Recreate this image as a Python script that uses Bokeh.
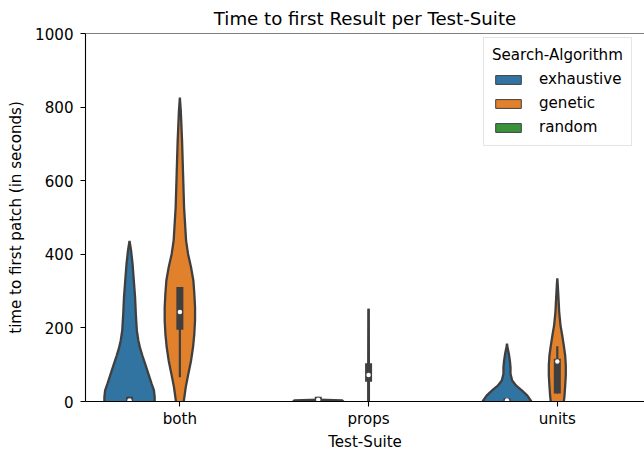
from bokeh.plotting import figure
from bokeh.models import Range1d, FixedTicker, Legend, LegendItem, Span
from bokeh.embed import file_html
from bokeh.resources import INLINE

# ---- data ----
suites = ["both", "props", "units"]
algorithms = ["exhaustive", "genetic", "random"]
colors = ["#3274a1", "#e1812c", "#3a923a"]

# density profiles (value grid, relative half-width 0..1)
both_exhaustive_vals = [0, 12, 30, 48, 75, 102, 125, 145, 166, 193, 238, 284, 329, 374, 411, 436]
both_exhaustive_dens = [1.0, 1.0, 0.97, 0.88, 0.75, 0.62, 0.51, 0.42, 0.35, 0.29, 0.25, 0.22, 0.17, 0.12, 0.06, 0.0]
both_genetic_vals = [0, 39, 75, 111, 148, 184, 220, 256, 293, 329, 365, 401, 438, 528, 619, 710, 791, 826]
both_genetic_dens = [0.155, 0.234, 0.337, 0.444, 0.524, 0.575, 0.603, 0.603, 0.575, 0.536, 0.444, 0.325, 0.246, 0.167, 0.127, 0.087, 0.036, 0.0]
props_exhaustive_vals = [0, 3, 5]
props_exhaustive_dens = [1.0, 0.95, 0.0]
props_genetic_vals = [0, 60, 120, 180, 252]
props_genetic_dens = [0.012, 0.012, 0.01, 0.006, 0.0]
units_exhaustive_vals = [0, 16, 30, 43, 57, 75, 93, 111, 129, 148, 157]
units_exhaustive_dens = [0.97, 0.81, 0.59, 0.365, 0.206, 0.14, 0.14, 0.115, 0.075, 0.02, 0.0]
units_genetic_vals = [0, 16, 43, 71, 98, 125, 152, 180, 207, 243, 279, 315, 335]
units_genetic_dens = [0.26, 0.286, 0.313, 0.337, 0.337, 0.313, 0.258, 0.194, 0.127, 0.075, 0.048, 0.02, 0.0]

# box statistics: (q1, median, q3, whisker_low, whisker_high)
both_exhaustive_box = (0, 3, 13, 0, 13)
both_genetic_box = (195, 243, 311, 66, 311)
props_exhaustive_box = (0, 5, 13, 0, 13)
props_genetic_box = (54, 72, 104, 0, 252)
units_exhaustive_box = (0, 3, 9, 0, 9)
units_genetic_box = (22, 109, 116, 22, 150)

violins = {
    ("both", "exhaustive"): (both_exhaustive_vals, both_exhaustive_dens, both_exhaustive_box),
    ("both", "genetic"): (both_genetic_vals, both_genetic_dens, both_genetic_box),
    ("props", "exhaustive"): (props_exhaustive_vals, props_exhaustive_dens, props_exhaustive_box),
    ("props", "genetic"): (props_genetic_vals, props_genetic_dens, props_genetic_box),
    ("units", "exhaustive"): (units_exhaustive_vals, units_exhaustive_dens, units_exhaustive_box),
    ("units", "genetic"): (units_genetic_vals, units_genetic_dens, units_genetic_box),
}

FONT = "DejaVu Sans"
GRAY = "#3f3f3f"
TICK_FS = "15.1px"
n_hue = len(algorithms)
hue_width = 0.8 / n_hue
half_max = hue_width / 2

p = figure(width=644, height=453, output_backend="svg", toolbar_location=None,
           x_range=Range1d(-0.5, 2.462), y_range=Range1d(0, 1000),
           min_border_left=85, min_border_right=0, min_border_top=33, min_border_bottom=52)

p.title.text = "Time to first Result per Test-Suite"
p.title.text_font = FONT
p.title.text_font_size = "18.2px"
p.title.text_font_style = "normal"
p.title.align = "center"
p.title.offset = 0
p.title.standoff = 9
p.title.text_color = "black"

p.xgrid.visible = False
p.ygrid.visible = False
p.outline_line_color = None
p.background_fill_color = "white"
p.border_fill_color = "white"

for (suite, algo), (vals, dens, box) in violins.items():
    i = suites.index(suite)
    j = algorithms.index(algo)
    c = i + (j - (n_hue - 1) / 2) * hue_width
    v = [-20] + list(vals)
    d = [dens[0]] + list(dens)
    xs = [c + dd * half_max for dd in d] + [c - dd * half_max for dd in reversed(d)]
    ys = v + list(reversed(v))
    p.patch(xs, ys, fill_color=colors[j], line_color=GRAY, line_width=2.3)
    q1, med, q3, wl, wh = box
    p.segment(x0=[c], y0=[wl], x1=[c], y1=[wh], line_color=GRAY, line_width=2.2)
    p.segment(x0=[c], y0=[q1], x1=[c], y1=[q3], line_color=GRAY, line_width=7)
    p.scatter(x=[c], y=[med], size=4.5, fill_color="white", line_color=None)

# legend proxies (nothing drawn in the plot area)
nan = float("nan")
proxies = {
    a: p.quad(left=[nan], right=[nan], top=[nan], bottom=[nan],
              fill_color=colors[k], line_color=GRAY, line_width=1)
    for k, a in enumerate(algorithms)
}

# top spine
p.add_layout(Span(location=1000, dimension="width", line_color="black", line_width=1.2))

for ax in (p.xaxis[0], p.yaxis[0]):
    ax.axis_line_color = "black"
    ax.axis_line_width = 1.1
    ax.major_tick_line_color = "black"
    ax.major_tick_line_width = 1.1
    ax.major_tick_out = 5
    ax.major_tick_in = 0
    ax.minor_tick_line_color = None
    ax.major_label_text_font = FONT
    ax.major_label_text_font_size = TICK_FS
    ax.major_label_text_color = "black"
    ax.axis_label_text_font = FONT
    ax.axis_label_text_font_size = TICK_FS
    ax.axis_label_text_font_style = "normal"
    ax.axis_label_text_color = "black"

p.yaxis.ticker = FixedTicker(ticks=[0, 200, 400, 600, 800, 1000])
p.yaxis.axis_label = "time to first patch (in seconds)"
p.yaxis.major_label_standoff = 7
p.yaxis.axis_label_standoff = 7
p.xaxis.ticker = FixedTicker(ticks=list(range(len(suites))))
p.xaxis.major_label_overrides = {i: s for i, s in enumerate(suites)}
p.xaxis.major_label_standoff = 3
p.xaxis.axis_label = "Test-Suite"
p.xaxis.axis_label_standoff = 2

legend = Legend(
    items=[LegendItem(label=a, renderers=[proxies[a]]) for a in algorithms],
    title="Search-Algorithm",
    location=(398, 255),
)
legend.title_text_font = FONT
legend.title_text_font_size = TICK_FS
legend.title_text_font_style = "normal"
legend.title_text_color = "black"
legend.title_standoff = 5
legend.label_text_font = FONT
legend.label_text_font_size = TICK_FS
legend.label_text_color = "black"
legend.glyph_width = 32
legend.glyph_height = 11
legend.label_height = 20
legend.label_standoff = 15
legend.spacing = 4
legend.padding = 8
legend.margin = 0
legend.border_line_color = "#cccccc"
legend.border_line_width = 1.2
legend.background_fill_alpha = 0.8
p.add_layout(legend)

open("out.html", "w").write(file_html(p, INLINE))
